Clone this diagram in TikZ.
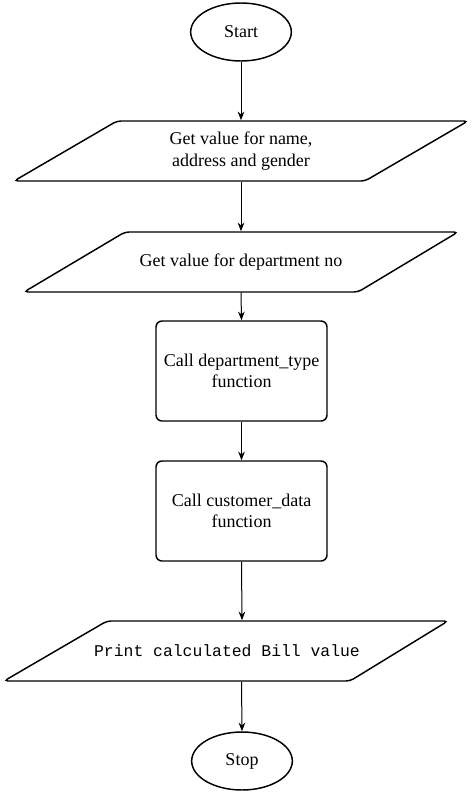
\documentclass[tikz,border=0pt]{standalone}
\usepackage{fontspec}
\setmainfont{Liberation Serif}
\setmonofont{Liberation Mono}
\usetikzlibrary{arrows.meta,shapes.geometric}
\begin{document}
\begin{tikzpicture}[x=0.75pt,y=-0.75pt,
  line width=1.1pt,
  txt/.style={font=\fontsize{13.5}{16}\selectfont, align=center},
  term/.style={draw, ellipse, inner sep=0pt, minimum width=75.5pt, minimum height=43.5pt, txt},
  iobox/.style={inner sep=0pt, minimum height=45pt, minimum width=200pt, txt},
  proc/.style={draw, rectangle, rounded corners=4.5pt, inner sep=0pt, minimum width=128.25pt, minimum height=75pt, txt},
  arr/.style={draw, line width=0.75pt, -{Stealth[length=6.5pt,width=5pt]}}
]
\useasboundingbox (0,0) rectangle (472,792);
\fill[white] (0,0) rectangle (472,792);

\node[term] (start) at (241,32) {Start};

\draw[rounded corners=3pt] (117,121) -- (468,121) -- (365,181) -- (14,181) -- cycle;
\node[iobox] (p1) at (241,151) {Get value for name,\\address and gender};

\draw[rounded corners=3pt] (125,232) -- (458,232) -- (358,292) -- (24,292) -- cycle;
\node[iobox] (p2) at (241,262) {Get value for department no};

\node[proc] (c1) at (241.5,371) {Call department\_type\\function};
\node[proc] (c2) at (241.5,511) {Call customer\_data\\function};

\draw[rounded corners=3pt] (107,621) -- (448,621) -- (350,681) -- (4,681) -- cycle;
\node[iobox] (p3) at (227,651) {\fontsize{12.3}{15}\ttfamily Print calculated Bill value};

\node[term] (stop) at (242,761) {Stop};

\draw[arr] (start.south) -- (p1.north);
\draw[arr] (p1.south) -- (p2.north);
\draw[arr] (p2.south) -- (c1.north);
\draw[arr] (c1.south) -- (c2.north);
\draw[arr] (c2.south) -- (p3.north -| stop.north);
\draw[arr] (p3.south -| c2.south) -- (stop.north);
\end{tikzpicture}
\end{document}
